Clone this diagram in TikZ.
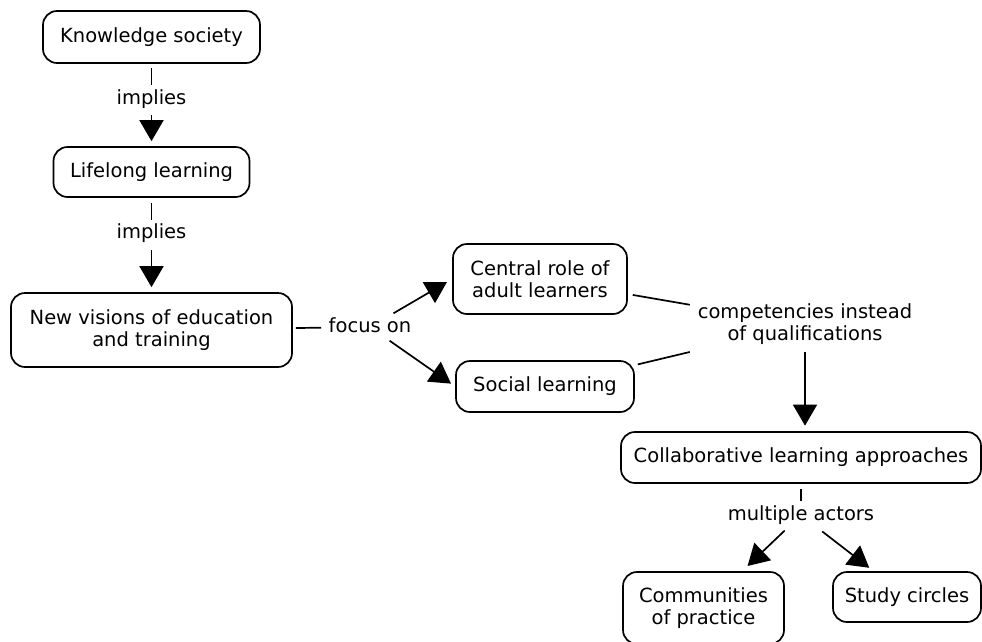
\documentclass[tikz,border=0pt]{standalone}
\usepackage{fontspec}
\setmainfont{DejaVu Sans}
\usetikzlibrary{arrows.meta}
\begin{document}
\begin{tikzpicture}[x=1pt,y=-1pt,
  every node/.style={font=\fontsize{19.5}{22}\selectfont},
  box/.style={draw, line width=1.7pt, rounded corners=14pt, align=center, inner sep=0pt},
  lbl/.style={inner sep=0pt, text height=14.5pt, text depth=4.5pt},
  link/.style={line width=1.7pt},
  arr/.style={link, -{Triangle[length=21pt,width=24pt]}}]
\clip (0,0) rectangle (982,641);

% concepts
\node[box, minimum width=217pt, minimum height=52pt] (ks) at (151.5,37) {Knowledge society};
\node[box, minimum width=196pt, minimum height=50pt] (ll) at (151.5,172) {Lifelong learning};
\node[box, minimum width=281pt, minimum height=74pt] (nv) at (151.5,330) {New visions of education\\and training};
\node[box, minimum width=174pt, minimum height=70pt] (cr) at (540,279) {Central role of\\adult learners};
\node[box, minimum width=178pt, minimum height=51pt] (sl) at (545,386.5) {Social learning};
\node[box, minimum width=360pt, minimum height=51pt] (cl) at (801,457.5) {Collaborative learning approaches};
\node[box, minimum width=161pt, minimum height=72pt] (cp) at (703.5,608) {Communities\\of practice};
\node[box, minimum width=148pt, minimum height=50pt] (sc) at (907,597) {Study circles};

% linking phrases
\node[lbl] (imp1) at (151.5,99) {implies};
\node[lbl] (imp2) at (151.5,233) {implies};
\node[lbl, inner ysep=4pt] (focus) at (370,327) {focus on};
\node[align=center, inner sep=0pt, minimum width=230pt, minimum height=55pt] (comp) at (805,324.5) {competencies instead\\of qualifications};
\node[lbl] (multi) at (801,515) {multiple actors};

% links
\draw[link, shorten <=4pt, shorten >=4.5pt] (ks) -- (imp1);
\draw[arr, shorten <=6.5pt, shorten >=5pt] (imp1) -- (ll);
\draw[link, shorten <=5pt, shorten >=3.5pt] (ll) -- (imp2);
\draw[arr, shorten <=7.5pt, shorten >=5pt] (imp2) -- (nv);
\draw[link, shorten <=3pt, shorten >=7.5pt] (nv) -- (focus);
\draw[arr, shorten >=6pt] (focus) -- (cr.west);
\draw[arr, shorten >=5pt] (focus) -- (sl.west);
\draw[link, shorten <=5pt] (cr) -- (comp);
\draw[link, shorten <=3pt] (sl) -- (comp);
\draw[arr, shorten >=5.5pt] (comp.south) -- (comp.south |- cl.north);
\draw[link, shorten <=5pt, shorten >=4.5pt] (cl) -- (multi);
\draw[arr, shorten <=8.5pt, shorten >=7.5pt] (multi) -- (cp);
\draw[arr, shorten <=11pt, shorten >=5.5pt] (multi) -- (sc);
\end{tikzpicture}
\end{document}
